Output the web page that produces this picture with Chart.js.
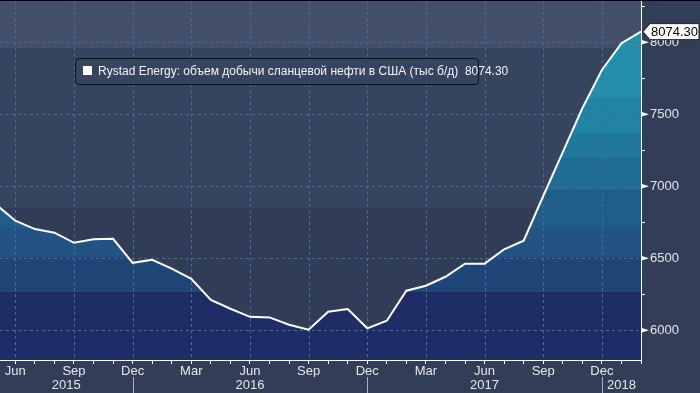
<!DOCTYPE html>
<html>
<head>
<meta charset="utf-8">
<script src="https://cdn.jsdelivr.net/npm/chart.js@4"></script>
<style>
  body { margin: 0; background: #323d57; }
  #wrap { position: relative; width: 700px; height: 393px; }
  #legenda {
    position: absolute; left: 75px; top: 58px; width: 402px; height: 25px;
    border: 1px solid #111; border-radius: 4px; background: #374460;
    font: 12px "Liberation Sans", Arial, sans-serif; color: #f2f2f2;
    white-space: pre; line-height: 25px; box-sizing: content-box;
  }
  #legenda span.box {
    position: absolute; left: 7px; top: 7px; width: 9px; height: 9px; background: #fff;
  }
  #legenda span.txt { position: absolute; left: 22px; top: 0; }
</style>
</head>
<body>
<div id="wrap">
  <canvas id="grafico" width="700" height="393"></canvas>
  <div id="legenda"><span class="box"></span><span class="txt" id="legendaTxt"></span></div>
</div>
<script>
// Dados: produção mensal, índice 0 = maio/2015
const meses = ['May','Jun','Jul','Aug','Sep','Oct','Nov','Dec',
               'Jan','Feb','Mar','Apr','May','Jun','Jul','Aug','Sep','Oct','Nov','Dec',
               'Jan','Feb','Mar','Apr','May','Jun','Jul','Aug','Sep','Oct','Nov','Dec',
               'Jan','Feb'];
const producao = [6875, 6761, 6703, 6678, 6608, 6632, 6636, 6469,
                  6490, 6428, 6358, 6212, 6150, 6094, 6090, 6039, 6004, 6129, 6148, 6014,
                  6067, 6275, 6310, 6372, 6463, 6463, 6563, 6622, 6933, 7238, 7542, 7808,
                  7993, 8074.30];
const anos = ['2015', '2016', '2017', '2018'];
const mesesTrimestre = ['Mar', 'Jun', 'Sep', 'Dec'];
const nomeSerie = 'Rystad Energy: объем добычи сланцевой нефти в США (тыс б/д)';

const pontos = producao.map((v, i) => ({ x: i, y: v }));
const ultimo = producao[producao.length - 1];
document.getElementById('legendaTxt').textContent = nomeSerie + '  ' + ultimo.toFixed(2);

// índices dos dezembros (separadores de ano)
const dezembros = meses.map((m, i) => m === 'Dec' ? i : -1).filter(i => i >= 0);

const X_MIN = 0.216, X_MAX = meses.length - 1;
const Y_MIN = 5794, Y_MAX = 8294;

// faixas do preenchimento (de baixo para cima)
const faixasFill = [
  [6266, '#1e2d66'], [6510, '#1f4677'], [6710, '#235382'], [6975, '#1f5e88'],
  [7197, '#1f6c94'], [7370, '#20789d'], [7613, '#2184a5'], [99999, '#238fab']
];

function gradienteFill(context) {
  const chart = context.chart;
  const area = chart.chartArea;
  if (!area) return '#1e2d66';
  const y = chart.scales.y;
  const g = chart.ctx.createLinearGradient(0, area.bottom, 0, area.top);
  const h = area.bottom - area.top;
  let ant = 0;
  faixasFill.forEach(([lim, cor]) => {
    let p = Math.min(1, Math.max(0, (area.bottom - y.getPixelForValue(lim)) / h));
    g.addColorStop(ant, cor);
    g.addColorStop(p, cor);
    ant = p;
  });
  return g;
}

function semPadding(s) {
  s.paddingTop = 0; s.paddingBottom = 0; s.paddingLeft = 0; s.paddingRight = 0;
}

const pluginFundo = {
  id: 'fundo',
  beforeDraw(chart) {
    const c = chart.ctx, a = chart.chartArea;
    c.save();
    c.fillStyle = '#323d57';
    c.fillRect(0, 0, chart.width, chart.height);
    c.fillStyle = '#313d58';
    c.fillRect(a.left, a.top, a.right - a.left, a.bottom - a.top);
    c.fillStyle = '#374460';
    c.fillRect(a.left, a.top, a.right - a.left, 208 - a.top);
    c.fillStyle = '#434f6b';
    c.fillRect(a.left, a.top, a.right - a.left, 48 - a.top);
    c.restore();
  },
  afterDatasetDraw(chart, args) {
    if (args.index !== 0) return;
    // grade tracejada por cima do preenchimento
    const c = chart.ctx, a = chart.chartArea;
    const xs = chart.scales.x, ys = chart.scales.y;
    c.save();
    c.strokeStyle = '#4d6a8a';
    c.lineWidth = 1;
    c.setLineDash([3, 3]);
    xs.ticks.forEach(t => {
      if (!mesesTrimestre.includes(meses[t.value])) return;
      const px = Math.round(xs.getPixelForValue(t.value)) + 0.5;
      if (px >= a.right - 1) return;
      c.beginPath(); c.moveTo(px, a.top); c.lineTo(px, a.bottom); c.stroke();
    });
    ys.ticks.forEach(t => {
      if (t.value % 500 !== 0) return;
      const py = Math.round(ys.getPixelForValue(t.value)) + 0.5;
      c.beginPath(); c.moveTo(a.left, py); c.lineTo(a.right, py); c.stroke();
    });
    c.restore();
  },
  afterDraw(chart) {
    const c = chart.ctx, a = chart.chartArea;
    const xs = chart.scales.x, ys = chart.scales.y;
    c.save();
    // linha preta no topo
    c.fillStyle = '#000';
    c.fillRect(0, 0, chart.width, 1);
    // separadores de ano
    c.strokeStyle = '#a9b0bf';
    c.lineWidth = 1;
    dezembros.forEach(i => {
      const px = Math.round(xs.getPixelForValue(i)) + 0.5;
      c.beginPath(); c.moveTo(px, 377); c.lineTo(px, chart.height); c.stroke();
    });
    // marcadores triangulares no eixo y
    c.fillStyle = '#fff';
    ys.ticks.forEach(t => {
      if (t.value % 500 !== 0) return;
      const py = ys.getPixelForValue(t.value);
      c.beginPath();
      c.moveTo(a.right, py - 2.5); c.lineTo(a.right + 8, py); c.lineTo(a.right, py + 2.5);
      c.closePath(); c.fill();
    });
    // etiqueta do último valor
    const py = ys.getPixelForValue(ultimo);
    const x0 = a.right + 2;
    c.beginPath();
    c.moveTo(x0, py);
    c.lineTo(x0 + 7, py - 8);
    c.lineTo(chart.width - 1, py - 8);
    c.lineTo(chart.width - 1, py + 8);
    c.lineTo(x0 + 7, py + 8);
    c.closePath();
    c.fillStyle = '#fff';
    c.fill();
    c.strokeStyle = '#222';
    c.stroke();
    c.fillStyle = '#000';
    c.font = '13px "Liberation Sans"';
    c.textBaseline = 'middle';
    c.fillText(ultimo.toFixed(2), x0 + 8, py + 1);
    c.restore();
  }
};

Chart.defaults.font.family = '"Liberation Sans", Arial, sans-serif';
Chart.defaults.font.size = 13;
Chart.defaults.color = '#e6e6e6';

const ctx = document.getElementById('grafico').getContext('2d');
new Chart(ctx, {
  type: 'line',
  data: {
    datasets: [
      {
        label: nomeSerie,
        data: pontos,
        order: 2,
        fill: 'start',
        backgroundColor: gradienteFill,
        borderColor: 'transparent',
        borderWidth: 0,
        pointRadius: 0
      },
      {
        label: nomeSerie,
        data: pontos,
        order: 1,
        fill: false,
        borderColor: '#ffffff',
        borderWidth: 2,
        pointRadius: 0,
        tension: 0
      }
    ]
  },
  options: {
    responsive: false,
    animation: false,
    devicePixelRatio: 1,
    layout: { padding: 0 },
    plugins: { legend: { display: false }, tooltip: { enabled: false } },
    scales: {
      x: {
        type: 'linear',
        position: 'bottom',
        min: X_MIN, max: X_MAX,
        weight: 0,
        afterBuildTicks: s => { s.ticks = meses.map((m, i) => ({ value: i })).filter(t => t.value >= 1); },
        afterFit: s => { s.height = 17; semPadding(s); },
        grid: { drawOnChartArea: false, drawTicks: true, tickLength: 4, color: '#ffffff' },
        border: { display: true, color: '#ffffff', width: 1 },
        ticks: {
          autoSkip: false, maxRotation: 0, padding: 0,
          callback: v => mesesTrimestre.includes(meses[v]) ? meses[v] : ''
        }
      },
      x2: {
        type: 'linear',
        position: 'bottom',
        min: X_MIN, max: X_MAX,
        weight: 1,
        afterBuildTicks: s => {
          const lim = [X_MIN].concat(dezembros).concat([X_MAX]);
          s.ticks = anos.map((a, i) => ({ value: (lim[i] + lim[i + 1]) / 2 }));
        },
        afterFit: s => { s.height = 16; semPadding(s); },
        grid: { display: false, drawTicks: false },
        border: { display: false },
        ticks: {
          autoSkip: false, maxRotation: 0, padding: 1,
          callback: (v, i) => anos[i]
        }
      },
      y: {
        type: 'linear',
        position: 'right',
        min: Y_MIN, max: Y_MAX,
        afterBuildTicks: s => {
          const t = [];
          for (let v = 6000; v <= Y_MAX; v += 250) t.push({ value: v });
          s.ticks = t;
        },
        afterFit: s => { s.width = 59; semPadding(s); },
        grid: { drawOnChartArea: false, drawTicks: true, tickLength: 4, color: '#ffffff' },
        border: { display: true, color: '#ffffff', width: 1 },
        ticks: {
          padding: 5,
          callback: v => v % 500 === 0 ? String(v) : ''
        }
      }
    }
  },
  plugins: [pluginFundo]
});
</script>
</body>
</html>
